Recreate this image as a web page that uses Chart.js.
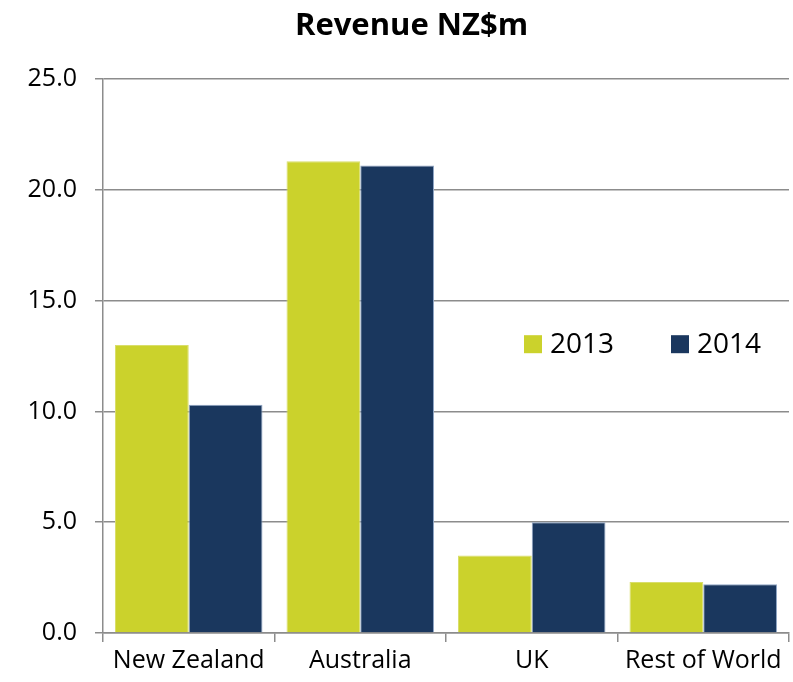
<html>
<head>
<script src="https://cdn.jsdelivr.net/npm/chart.js@4.4.1/dist/chart.umd.min.js"></script>
</head>
<body style="margin:0; background:#fff;">
    <div style="width:793px; height:682px;">
        <canvas id="revChart" width="793" height="682"></canvas>
    </div>
</body>
<script>
    var regions = ["New Zealand", "Australia", "UK", "Rest of World"];
    var rev2013 = [13.0, 21.3, 3.5, 2.3];
    var rev2014 = [10.3, 21.1, 5.0, 2.2];
    var yTicks = [0, 5, 10, 15, 20, 25];

    var gridGray = "#8c8c8c";
    var font = "'Open Sans', 'DejaVu Sans', sans-serif";

    // legend sits inside the plot, to the right of Australia
    var insideLegend = {
        id: "insideLegend",
        afterLayout: function (chart) {
            // nudge the title a bit right, like the original
            if (chart.titleBlock) chart.titleBlock.left += 34;
        },
        afterDraw: function (chart) {
            var ctx = chart.ctx;
            var area = chart.chartArea;
            var x = area.left + 421;
            var y = area.top + 256;
            ctx.save();
            ctx.font = "28px " + font;
            ctx.textBaseline = "middle";
            chart.data.datasets.forEach(function (ds, i) {
                var bx = x + i * 147;
                ctx.fillStyle = ds.backgroundColor;
                ctx.fillRect(bx, y, 18, 18);
                ctx.fillStyle = "#000";
                ctx.fillText(ds.label, bx + 26, y + 10);
            });
            ctx.restore();
        }
    };

    new Chart("revChart", {
        type: "bar",
        data: {
            labels: regions,
            datasets: [
                {
                    label: "2013",
                    data: rev2013,
                    backgroundColor: "#cbd22c",
                    borderColor: "#d9de6a",
                    borderWidth: 1,
                    categoryPercentage: 0.86,
                    barPercentage: 1.0
                },
                {
                    label: "2014",
                    data: rev2014,
                    backgroundColor: "#1a375e",
                    borderColor: "#8fa5c4",
                    borderWidth: 1,
                    categoryPercentage: 0.86,
                    barPercentage: 1.0
                }
            ]
        },
        options: {
            responsive: false,
            animation: false,
            layout: { padding: { left: 0, right: 4, top: 0, bottom: 2 } },
            plugins: {
                legend: { display: false },
                tooltip: { enabled: false },
                title: {
                    display: true,
                    text: "Revenue NZ$m",
                    color: "#000",
                    font: { family: font, size: 31, weight: "bold" },
                    padding: { top: 8, bottom: 34 }
                }
            },
            scales: {
                x: {
                    grid: {
                        drawOnChartArea: false,
                        drawTicks: true,
                        tickLength: 9,
                        color: gridGray,
                        lineWidth: 1.5
                    },
                    border: { color: gridGray, width: 1.5 },
                    ticks: {
                        color: "#000",
                        font: { family: font, size: 25 },
                        padding: 4,
                        maxRotation: 0
                    }
                },
                y: {
                    min: 0,
                    max: 25,
                    afterBuildTicks: function (scale) {
                        scale.ticks = yTicks.map(function (v) { return { value: v }; });
                    },
                    afterFit: function (scale) { scale.width = 103; },
                    grid: {
                        color: gridGray,
                        lineWidth: 1.5,
                        tickLength: 8
                    },
                    border: { color: gridGray, width: 1.5 },
                    ticks: {
                        color: "#000",
                        font: { family: font, size: 25 },
                        padding: 18,
                        callback: function (v) { return v.toFixed(1); }
                    }
                }
            }
        },
        plugins: [insideLegend]
    });
</script>
</html>
